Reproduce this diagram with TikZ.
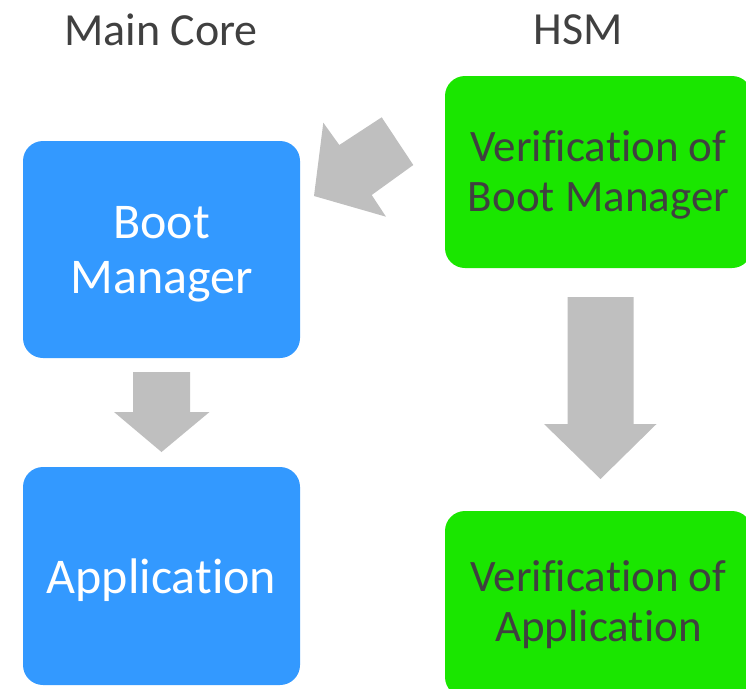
\documentclass[tikz,border=0pt]{standalone}
\usepackage{fontspec}
\setmainfont[Ligatures=NoCommon]{Carlito}
\definecolor{coreblue}{HTML}{3399FF}
\definecolor{hsmgreen}{HTML}{1AE600}
\definecolor{darktext}{HTML}{404040}
\definecolor{arrowgray}{HTML}{BFBFBF}
\begin{document}
\begin{tikzpicture}[x=1pt,y=-1pt,
  title/.style={text=darktext, font=\fontsize{46}{50}\selectfont},
  corebox/.style={fill=coreblue, rounded corners=20pt, inner sep=0pt},
  coretext/.style={text=white, align=center, inner sep=0pt, font=\fontsize{50}{55}\selectfont},
  hsmbox/.style={fill=hsmgreen, rounded corners=20pt, inner sep=0pt},
  hsmtext/.style={text=darktext, align=center, inner sep=0pt, font=\fontsize{45}{50}\selectfont},
  blockarrow/.style={fill=arrowgray, draw=none}]
\useasboundingbox (0,0) rectangle (746,688);
\clip (0,0) rectangle (746,688);

% column titles
\node[title] (tcore) at (161,30) {Main Core};
\node[title] (thsm) at (578,30) {HSM};

% main core boxes
\node[corebox, minimum width=277pt, minimum height=217pt] (bm) at (161.5,249.5) {};
\node[coretext] (bmtext) at ([yshift=-5pt]bm.center) {Boot\\Manager};
\node[corebox, minimum width=277pt, minimum height=218pt] (app) at (161.5,576) {};
\node[coretext] (apptext) at ([yshift=-4pt]app.center) {Application};

% HSM boxes
\node[hsmbox, minimum width=307pt, minimum height=192pt] (vbm) at (598.5,172) {};
\node[hsmtext] (vbmtext) at ([yshift=-3pt]vbm.center) {Verification of\\Boot Manager};
\node[hsmbox, minimum width=307pt, minimum height=186pt] (vapp) at (598.5,604) {};
\node[hsmtext] (vapptext) at ([yshift=-1pt]vapp.center) {Verification of\\Application};

% block arrow: boot manager -> application
\coordinate (a1) at (161.5,372);
\fill[blockarrow] (a1) ++(-28.5,0) -- ++(57,0) -- ++(0,40) -- ++(19.5,0)
  -- (161.5,452) -- (114,412) -- (133,412) -- cycle;

% block arrow: verification of boot manager -> verification of application
\coordinate (a2) at (600.5,297);
\fill[blockarrow] (a2) ++(-33,0) -- ++(66,0) -- ++(0,127) -- ++(23,0)
  -- (600.5,479) -- (544,424) -- (567.5,424) -- cycle;

% block arrow: HSM verification -> boot manager
\fill[blockarrow] (314,196) -- (323.3,122.7) -- (339.3,145) -- (381.7,117.3)
  -- (413.3,165) -- (371.7,195) -- (386,216.7) -- cycle;
\end{tikzpicture}
\end{document}
